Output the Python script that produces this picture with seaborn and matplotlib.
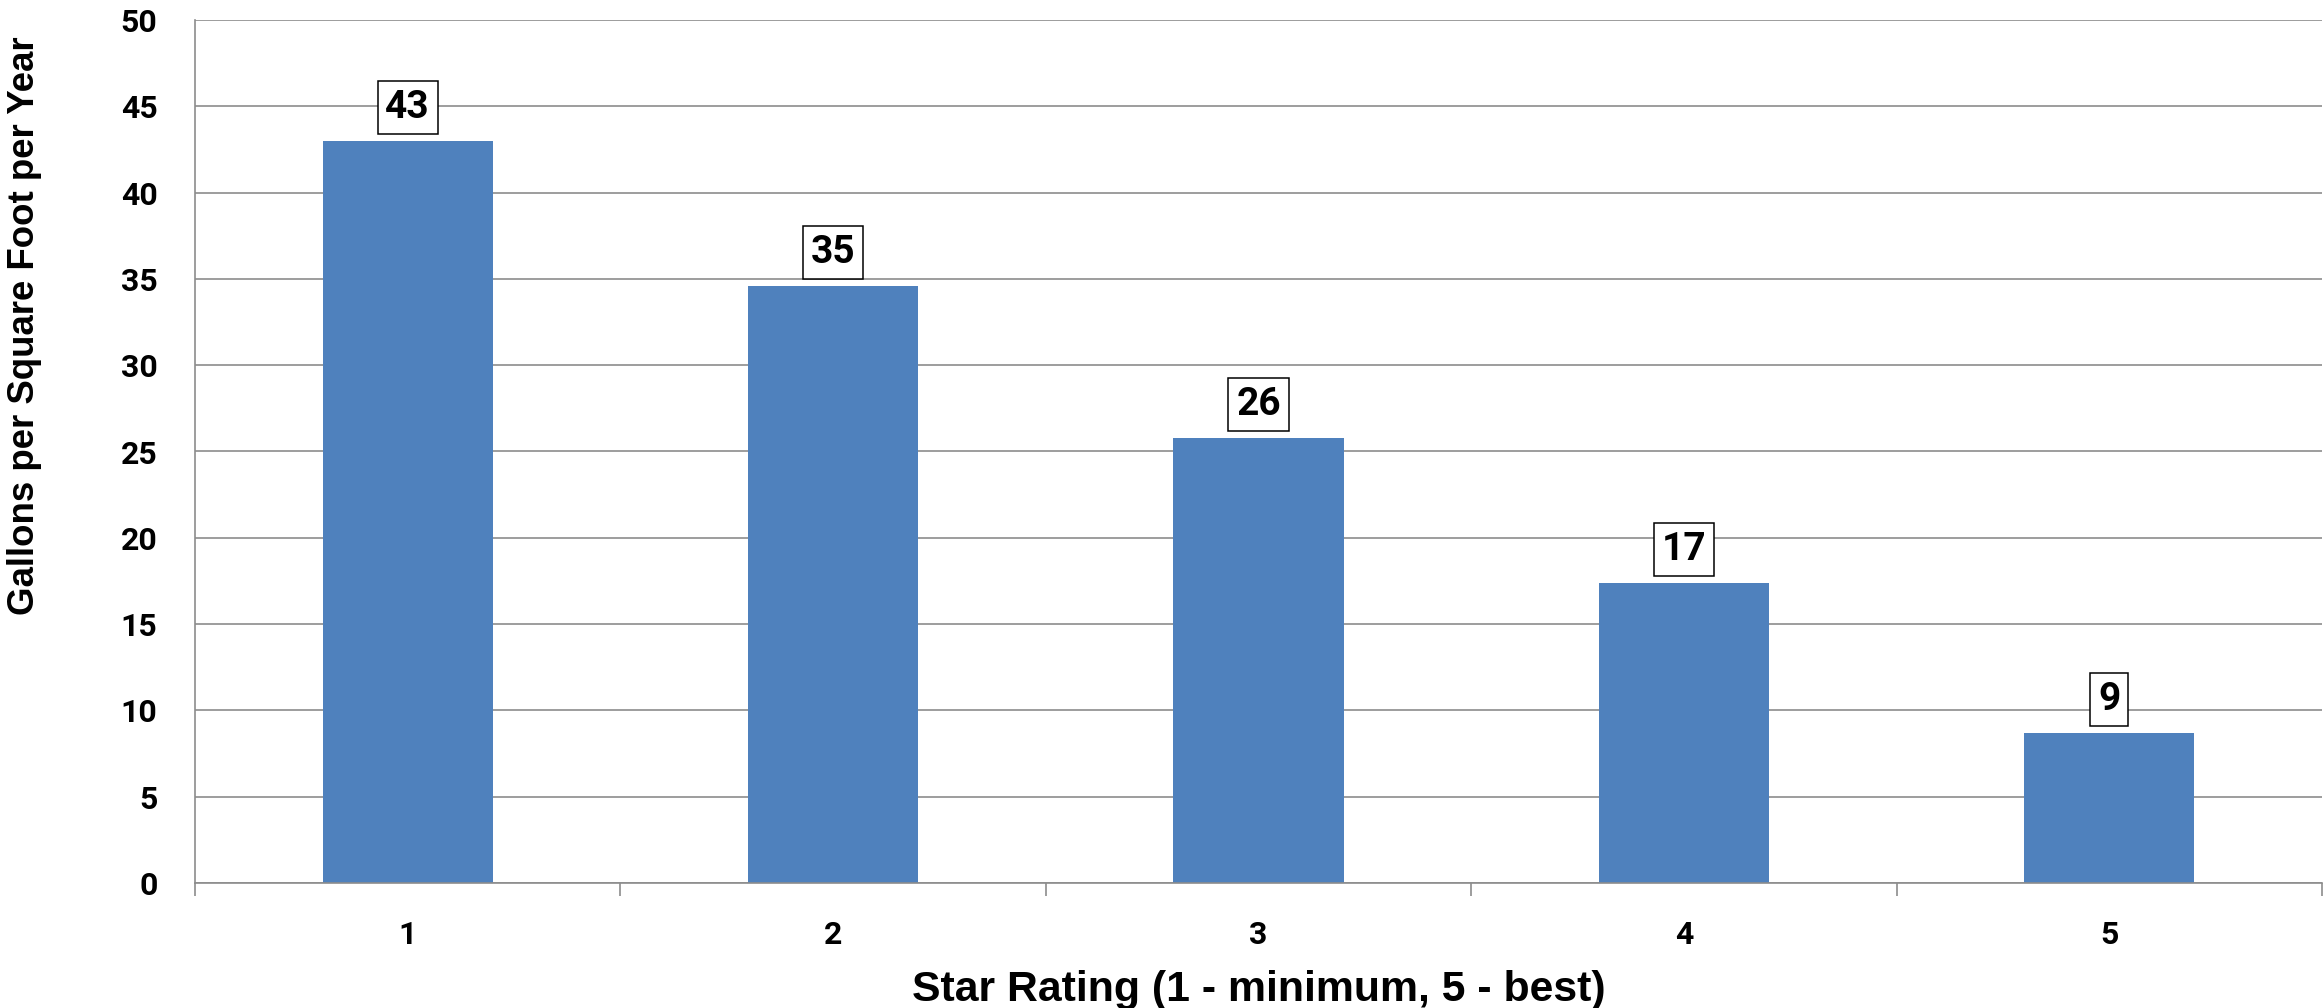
import seaborn as sns
import matplotlib.pyplot as plt
import pandas as pd

ratings = ["1", "2", "3", "4", "5"]
gallons = [43.0, 34.6, 25.8, 17.4, 8.7]
value_labels = ["43", "35", "26", "17", "9"]

df = pd.DataFrame({"rating": ratings, "gallons": gallons})

sns.set_theme(style="white")
plt.rcParams["font.family"] = ["Roboto", "DejaVu Sans"]
plt.rcParams["font.weight"] = "bold"

grey = "#8c8c8c"
blue = "#4f81bd"

fig = plt.figure(figsize=(23.23, 10.08), dpi=100)
ax = fig.add_axes([195 / 2323, 125 / 1008, 2127 / 2323, 863 / 1008])

sns.barplot(data=df, x="rating", y="gallons", color=blue, width=0.4,
            saturation=1, edgecolor="none", ax=ax)

ax.set_xlim(-0.5, 4.5)
ax.set_ylim(0, 50)
ax.set_yticks(range(0, 51, 5))
ax.set_xticks([-0.5, 0.5, 1.5, 2.5, 3.5, 4.5], minor=True)

ax.set_axisbelow(True)
ax.yaxis.grid(True, color=grey, linewidth=1.2)
ax.xaxis.grid(False)

for side in ["top", "right"]:
    ax.spines[side].set_visible(False)
for side in ["left", "bottom"]:
    ax.spines[side].set_color(grey)
    ax.spines[side].set_linewidth(1.2)

ax.tick_params(axis="y", which="major", length=9, width=1.2, color=grey,
               pad=18, labelsize=23, labelcolor="black")
ax.tick_params(axis="x", which="major", length=0, pad=27, labelsize=23,
               labelcolor="black")
ax.tick_params(axis="x", which="minor", length=9, width=1.2, color=grey,
               bottom=True)

ax.bar_label(ax.containers[0], labels=value_labels, padding=10.5,
             fontsize=28, fontweight="bold", color="black",
             bbox=dict(boxstyle="square,pad=0.2", facecolor="white",
                       edgecolor="black", linewidth=1.1))

ax.set_xlabel("Star Rating (1 - minimum, 5 - best)", fontsize=30.8,
              fontweight="bold", family="Liberation Sans", color="black")
ax.xaxis.set_label_coords(0.5, -0.101)
ax.set_ylabel("Gallons per Square Foot per Year", fontsize=26.4,
              fontweight="bold", family="Liberation Sans", color="black")
ax.yaxis.set_label_coords(-0.072, (883 - 326) / 863)

fig.savefig("out.png", dpi=100, facecolor="white")
